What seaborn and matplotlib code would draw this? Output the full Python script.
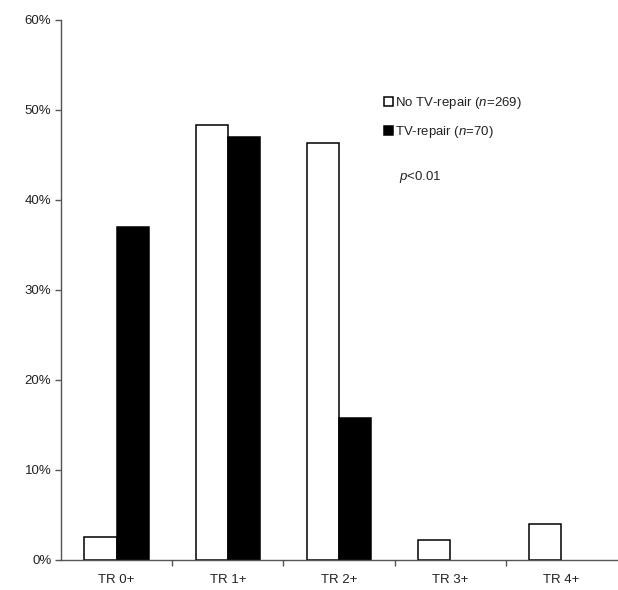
import matplotlib
matplotlib.use("Agg")
import matplotlib.pyplot as plt
import seaborn as sns
import pandas as pd
from matplotlib.ticker import PercentFormatter, FixedLocator, NullFormatter

categories = ["TR 0+", "TR 1+", "TR 2+", "TR 3+", "TR 4+"]
no_repair = [0.026, 0.483, 0.463, 0.022, 0.040]
tv_repair = [0.370, 0.470, 0.158, 0.0, 0.0]
series_names = ["No TV-repair", "TV-repair"]
series_labels = [r"No TV-repair ($\mathit{n}$=269)", r"TV-repair ($\mathit{n}$=70)"]
yticks = [0, 0.1, 0.2, 0.3, 0.4, 0.5, 0.6]

df = pd.DataFrame({
    "cat": categories * 2,
    "val": no_repair + tv_repair,
    "group": [series_names[0]] * 5 + [series_names[1]] * 5,
})

sns.set_style("white")
plt.rcParams["font.family"] = ["Liberation Sans", "DejaVu Sans"]
plt.rcParams["mathtext.fontset"] = "custom"
plt.rcParams["mathtext.it"] = "Liberation Sans:italic"
plt.rcParams["mathtext.rm"] = "Liberation Sans"

fig = plt.figure(figsize=(6.18, 5.90), dpi=100)
ax = fig.add_axes([61 / 618, 30 / 590, 556 / 618, 540 / 590])

sns.barplot(data=df, x="cat", y="val", hue="group", hue_order=series_names,
            palette=["white", "black"], edgecolor="black", linewidth=1.1,
            width=0.58, gap=0, ax=ax, legend=True)

# hide zero-height bars (no outline line on the baseline)
for cont in ax.containers:
    for p in cont.patches:
        if p.get_height() == 0:
            p.set_visible(False)

ax.set_ylim(0, 0.6)
ax.set_xlim(-0.5, 4.5)
ax.set_yticks(yticks)
ax.yaxis.set_major_formatter(PercentFormatter(1.0, decimals=0))
ax.set_xlabel("")
ax.set_ylabel("")

for s in ["top", "right"]:
    ax.spines[s].set_visible(False)
for s in ["left", "bottom"]:
    ax.spines[s].set_color("#555555")
    ax.spines[s].set_linewidth(1.0)

ax.tick_params(axis="y", which="major", left=True, length=4, width=1.0,
               color="#555555", labelsize=9.5, labelcolor="#222222", pad=3)
ax.tick_params(axis="x", which="major", bottom=False, length=0,
               labelsize=9.5, labelcolor="#222222", pad=10)
ax.xaxis.set_minor_locator(FixedLocator([0.5, 1.5, 2.5, 3.5]))
ax.xaxis.set_minor_formatter(NullFormatter())
ax.tick_params(axis="x", which="minor", bottom=True, length=4, width=1.0,
               color="#555555")

handles, _ = ax.get_legend_handles_labels()
ax.legend(handles, series_labels, loc="upper left",
          bbox_to_anchor=(318 / 556, 1 - 70 / 540), frameon=False,
          handlelength=0.65, handleheight=0.65, handletextpad=0.15,
          labelspacing=0.95, fontsize=9.5, labelcolor="#222222",
          borderaxespad=0)

fig.text(399 / 618, 1 - 177 / 590, r"$\mathit{p}$<0.01", fontsize=9.5,
         color="#222222", va="center", ha="left")

fig.savefig("out.png", dpi=100)
